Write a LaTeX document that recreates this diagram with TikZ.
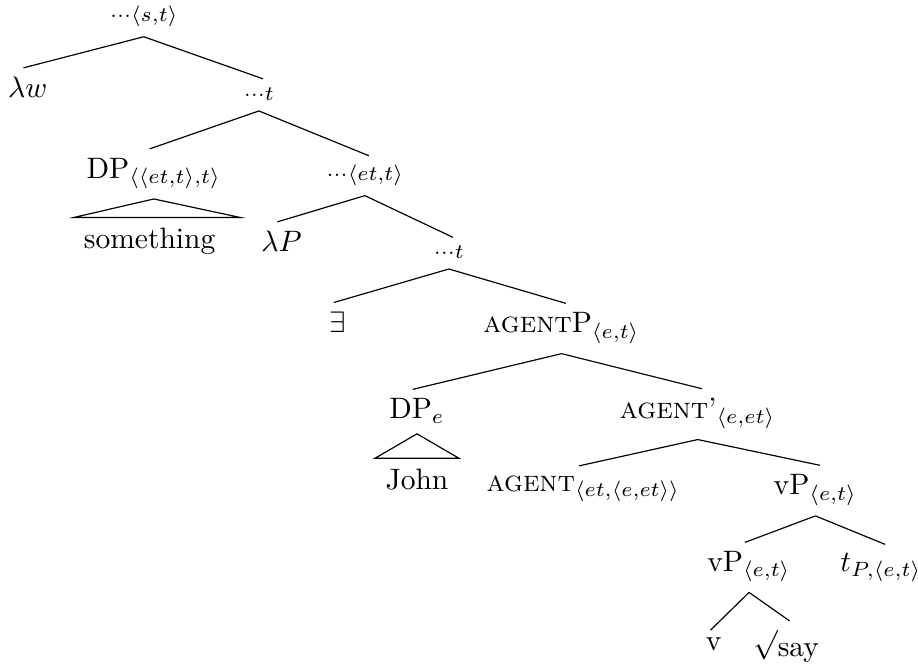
\documentclass[tikz,border=0pt]{standalone}
\usepackage{amsmath}
\usepackage{tikz}
\tikzset{kat/.style={inner sep=.333em},
	ast/.style={thin, shorten >=-1.5pt},
	dreieck/.style={thin}}

\begin{document}
\begin{tikzpicture}
	[every node/.style={kat}]
  \useasboundingbox (0,0) rectangle (10.92,-7.90);

  \node (wurzel) at (1.71,-0.19) {$\scriptstyle\cdots\langle s,t\rangle$};
  \node (lw) at (0.33,-1.04) {$\lambda w$};
  \node (t1) at (3.08,-1.12) {$\scriptstyle\cdots t$};
  \node (dp1) at (1.83,-2.06) {DP$_{\langle\langle et,t\rangle,t\rangle}$};
  \node (et) at (4.34,-2.08) {$\scriptstyle\cdots\langle et,t\rangle$};
  \node (smth) at (1.78,-2.87) {something};
  \node (lp) at (3.35,-2.87) {$\lambda P$};
  \node (t2) at (5.34,-3.00) {$\scriptstyle\cdots t$};
  \node (ex) at (4.02,-3.83) {$\exists$};
  \node (agp) at (6.68,-3.90) {\textsc{agent}P$_{\langle e,t\rangle}$};
  \node (dpe) at (4.96,-4.89) {DP$_e$};
  \node (agbar) at (8.30,-4.92) {\textsc{agent}'$_{\langle e,et\rangle}$};
  \node (john) at (4.96,-5.70) {John};
  \node (ag) at (6.94,-5.81) {\textsc{agent}$_{\langle et,\langle e,et\rangle\rangle}$};
  \node (vp1) at (9.70,-5.83) {vP$_{\langle e,t\rangle}$};
  \node (vp2) at (8.91,-6.74) {vP$_{\langle e,t\rangle}$};
  \node (tr) at (10.48,-6.75) {$t_{P,\langle e,t\rangle}$};
  \node (v) at (8.49,-7.66) {v};
  \node (say) at (9.35,-7.68) {$\sqrt{\vphantom{h}}$say};

  \draw [ast] (wurzel.south) -- (lw.north);
  \draw [ast] (wurzel.south) -- (t1.north);
  \draw [ast] (t1.south) -- (dp1.north);
  \draw [ast] (t1.south) -- (et.north);
  \draw [ast] (et.south) -- (lp.north);
  \draw [ast] (et.south) -- (t2.north);
  \draw [ast] (t2.south) -- (ex.north);
  \draw [ast] (t2.south) -- (agp.north);
  \draw [ast] (agp.south) -- (dpe.north);
  \draw [ast] (agp.south) -- (agbar.north);
  \draw [ast] (agbar.south) -- (ag.north);
  \draw [ast] (agbar.south) -- (vp1.north);
  \draw [ast] (vp1.south) -- (vp2.north);
  \draw [ast] (vp1.south) -- (tr.north);
  \draw [ast] (vp2.south) -- (v.north);
  \draw [ast] (vp2.south) -- (say.north);

  \draw [dreieck] (dp1.south) -- (smth.north west) -- ([xshift=5pt]smth.north east) -- cycle;
  \draw [dreieck] (dpe.south) -- (john.north west) -- (john.north east) -- cycle;
\end{tikzpicture}
\end{document}
